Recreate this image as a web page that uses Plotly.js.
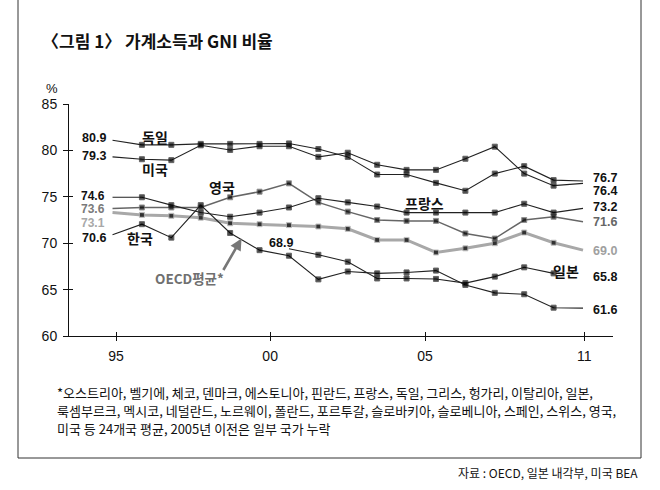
<!DOCTYPE html>
<html>
<head>
<meta charset="utf-8">
<script src="https://cdn.plot.ly/plotly-3.0.1.min.js"></script>
<style>
  html, body { margin: 0; padding: 0; background: #fff; }
  #chart { width: 660px; height: 490px; }
</style>
</head>
<body>
<div id="chart"></div>
<script>
// values (drawn positions, % of GNI)
var years = [1995, 1996, 1997, 1998, 1999, 2000, 2001, 2002, 2003,
             2004, 2005, 2006, 2007, 2008, 2009, 2010, 2011];
var germany = [81.1, 80.6, 80.6, 80.7, 80.7, 80.7, 80.75, 80.15, 79.3,
               77.4, 77.4, 76.5, 75.65, 77.5, 78.3, 76.8, 76.7];
var usa     = [79.3, 79.05, 78.95, 80.55, 80.05, 80.45, 80.45, 79.3, 79.75,
               78.45, 77.9, 77.9, 79.1, 80.4, 77.5, 76.2, 76.45];
var france  = [74.95, 74.95, 74.1, 73.3, 72.85, 73.3, 73.85, 74.85, 74.4,
               73.95, 73.3, 73.3, 73.3, 73.3, 74.25, 73.3, 73.75];
var uk      = [73.75, 73.85, 73.85, 73.85, 74.95, 75.55, 76.45, 74.4, 73.4,
               72.5, 72.4, 72.4, 71.05, 70.5, 72.5, 72.85, 72.3];
var oecd    = [73.3, 73.05, 72.95, 72.75, 72.15, 72.05, 71.95, 71.8, 71.55,
               70.35, 70.35, 69.0, 69.45, 70.0, 71.15, 70.05, 69.25];
var korea   = [70.9, 72.05, 70.6, 74.1, 71.1, 69.25, 68.65, 66.1, 66.95,
               66.75, 66.85, 67.05, 65.5, 64.65, 64.5, 63.05, 63.0];
var japanYears = [2001, 2002, 2003, 2004, 2005, 2006, 2007, 2008, 2009, 2010];
var japan   = [69.4, 68.75, 68.0, 66.2, 66.2, 66.15, 65.7, 66.4, 67.4, 66.75];

var tickPos = [1995.12, 2000.36, 2005.63, 2011.04];
var tickText = ['95', '00', '05', '11'];

var W = 660, H = 490, L = 69, R = 47, T = 104, B = 154;
var PW = W - L - R, PH = H - T - B;
function px(x) { return (x - L) / PW; }
function py(y) { return (H - B - y) / PH; }

// first and last points carry no square marker
function sizes(n, keepLast) {
  var s = [];
  for (var i = 0; i < n; i++) s.push((i === 0 || (i === n - 1 && !keepLast)) ? 0 : 5);
  return s;
}

function series(x, y, color, width, keepLast) {
  return {
    type: 'scatter', mode: 'lines+markers', x: x, y: y,
    line: {color: color, width: width},
    marker: {symbol: 'square', color: '#000', size: sizes(y.length, keepLast)},
    hoverinfo: 'skip', showlegend: false
  };
}

var data = [
  series(years, oecd, '#a8a8a8', 3),
  series(years, uk, '#666666', 1.5),
  series(years, germany, '#222', 1.1),
  series(years, usa, '#222', 1.1),
  series(years, france, '#222', 1.1),
  series(years, korea, '#222', 1.1),
  series(japanYears, japan, '#222', 1.1, true),
  {type: 'scatter', x: [], y: [], xaxis: 'x2', yaxis: 'y2', showlegend: false}
];

var NUM = 'Liberation Sans, Arial, sans-serif';
var KR = 'Noto Sans CJK KR, sans-serif';

function txt(text, x, y, anchor, opts) {
  opts = opts || {};
  return {
    text: text, xref: 'paper', yref: 'paper', x: px(x), y: py(y),
    xanchor: anchor, yanchor: 'middle', showarrow: false,
    font: {family: opts.family || NUM, size: opts.size || 12.5,
           color: opts.color || '#111', weight: opts.weight || 'bold'}
  };
}

var lab = {family: KR, size: 14, weight: 'bold'};
var note = {family: KR, size: 13, weight: 'normal'};

var annotations = [
  txt('%', 52, 89, 'center', {size: 13, weight: 'normal'}),
  // start values
  txt('80.9', 108, 138, 'right'),
  txt('79.3', 108, 156, 'right'),
  txt('74.6', 107, 195.5, 'right', {size: 12}),
  txt('73.6', 107, 209, 'right', {color: '#7a7a7a', size: 12}),
  txt('73.1', 107, 222.5, 'right', {color: '#a8a8a8', size: 12}),
  txt('70.6', 108, 238, 'right'),
  txt('68.9', 281, 243, 'center'),
  // end values
  txt('76.7', 591, 177.5, 'left'),
  txt('76.4', 591, 190.5, 'left'),
  txt('73.2', 591, 207, 'left'),
  txt('71.6', 591, 222, 'left', {color: '#666'}),
  txt('69.0', 591, 251, 'left', {color: '#a0a0a0'}),
  txt('65.8', 591, 277, 'left'),
  txt('61.6', 591, 310, 'left'),
  // country names
  txt('독일', 155, 137, 'center', lab),
  txt('미국', 155, 169, 'center', lab),
  txt('한국', 140, 238, 'center', lab),
  txt('영국', 222, 187, 'center', lab),
  txt('프랑스', 424, 203, 'center', lab),
  txt('일본', 566, 271, 'center', lab),
  txt('OECD평균*', 189, 278, 'center', {family: KR, size: 13.5, weight: 'bold', color: '#707070'}),
  {
    text: '', xref: 'paper', yref: 'paper', x: px(241.5), y: py(238.5),
    showarrow: true, ax: -19, ay: 33, arrowhead: 2, arrowsize: 0.9,
    arrowwidth: 2.6, arrowcolor: '#777'
  },
  // footnote and source
  txt('*오스트리아, 벨기에, 체코, 덴마크, 에스토니아, 핀란드, 프랑스, 독일, 그리스, 헝가리, 이탈리아, 일본,',
      55, 392, 'left', note),
  txt('룩셈부르크, 멕시코, 네덜란드, 노르웨이, 폴란드, 포르투갈, 슬로바키아, 슬로베니아, 스페인, 스위스, 영국,',
      55, 410, 'left', note),
  txt('미국 등 24개국 평균, 2005년 이전은 일부 국가 누락', 55, 428, 'left', note),
  txt('자료 : OECD, 일본 내각부, 미국 BEA', 640, 472, 'right', {family: KR, size: 12, weight: 'normal'})
];

var frame = {type: 'path', xref: 'paper', yref: 'paper',
  path: 'M ' + px(18) + ',' + py(0) + ' L ' + px(18) + ',' + py(458) +
        ' L ' + px(641) + ',' + py(458) + ' L ' + px(641) + ',' + py(0),
  line: {color: '#333', width: 1}};

var xRange = [1993.52, 2012.02], yRange = [60, 85];
var tickFont = {family: NUM, size: 14, color: '#111'};

var layout = {
  width: W, height: H,
  margin: {l: L, r: R, t: T, b: B, pad: 0},
  paper_bgcolor: '#fff', plot_bgcolor: '#fff',
  showlegend: false,
  title: {
    text: '〈그림 1〉 가계소득과 GNI 비율',
    xref: 'container', yref: 'container', x: 42 / W, xanchor: 'left',
    y: 1 - 42 / H, yanchor: 'middle',
    font: {family: KR, size: 17, color: '#111', weight: 'bold'}
  },
  xaxis: {
    range: xRange, fixedrange: true, showgrid: false, zeroline: false,
    showline: true, linecolor: '#111', linewidth: 1,
    tickmode: 'array', tickvals: tickPos, ticktext: tickText,
    ticks: 'outside', ticklen: 4, tickcolor: '#111', tickwidth: 1,
    tickfont: tickFont, ticklabelstandoff: 3
  },
  yaxis: {
    range: yRange, fixedrange: true, showgrid: false, zeroline: false,
    showline: true, linecolor: '#111', linewidth: 1,
    tickmode: 'array', tickvals: [60, 65, 70, 75, 80, 85],
    ticks: 'outside', ticklen: 5, tickcolor: '#111', tickwidth: 1,
    tickfont: tickFont, ticklabelstandoff: 3
  },
  xaxis2: {
    overlaying: 'x', anchor: 'y2', side: 'bottom', range: xRange, fixedrange: true,
    showgrid: false, zeroline: false, showline: false, showticklabels: false,
    tickmode: 'array', tickvals: tickPos,
    ticks: 'inside', ticklen: 4, tickcolor: '#111', tickwidth: 1
  },
  yaxis2: {
    overlaying: 'y', anchor: 'x2', side: 'left', range: yRange, fixedrange: true,
    showgrid: false, zeroline: false, showline: false, showticklabels: false,
    tickmode: 'array', tickvals: [60, 65, 70, 75, 80, 85],
    ticks: 'inside', ticklen: 4, tickcolor: '#111', tickwidth: 1
  },
  shapes: [frame],
  annotations: annotations
};

Plotly.newPlot('chart', data, layout, {staticPlot: true, displayModeBar: false});
</script>
</body>
</html>
